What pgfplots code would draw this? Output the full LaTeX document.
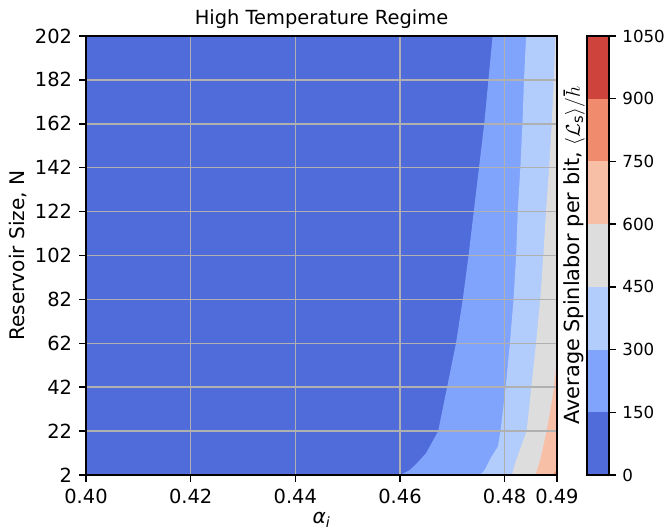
\documentclass[border=0pt]{standalone}
\usepackage{pgfplots}
\pgfplotsset{compat=1.18}
\usepackage{fontspec}
\setmainfont{DejaVu Sans}
\setsansfont{DejaVu Sans}
\definecolor{c1}{RGB}{80,107,218}
\definecolor{c2}{RGB}{128,164,251}
\definecolor{c3}{RGB}{178,204,251}
\definecolor{c4}{RGB}{221,221,221}
\definecolor{c5}{RGB}{246,191,166}
\definecolor{c6}{RGB}{240,139,109}
\definecolor{c7}{RGB}{206,67,59}
\newcommand{\fs}{\fontsize{14bp}{16bp}\selectfont}
\newcommand{\fl}{\fontsize{14.5bp}{17bp}\selectfont}
\newcommand{\fc}{\fontsize{12bp}{14bp}\selectfont}
\pgfplotsset{
  mpl/.style={
    scale only axis,
    axis on top,
    tick align=outside,
    major tick length=4.9bp,
    tick style={black, line width=1.12bp},
    axis line style={line width=1.12bp},
    ticklabel style={font=\fs, inner sep=0pt},
    label style={font=\fl},
    /pgf/number format/assume math mode=true,
    /pgf/number format/1000 sep={},
  },
  every axis title/.style={at={(0.5,1)}, anchor=base, yshift=8.4bp, font=\fs, inner sep=0pt},
}
\begin{document}
\begin{tikzpicture}
\useasboundingbox (0,0) rectangle (478.8bp,380.88bp);
\begin{axis}[mpl,
  at={(61.92bp,38.88bp)}, anchor=south west,
  width=339.1bp, height=316.1bp,
  xmin=0.40, xmax=0.49, ymin=2, ymax=202,
  xtick={0.40,0.42,0.44,0.46,0.48,0.49},
  xticklabels={0.40,0.42,0.44,0.46,0.48,0.49},
  ytick={2,22,42,62,82,102,122,142,162,182,202},
  xtick pos=left, ytick pos=left,
  xticklabel style={yshift=-4.9bp},
  yticklabel style={xshift=-4.9bp},
  grid=major,
  grid style={color=black!31, line width=1.12bp},
  title={High Temperature Regime},
  xlabel={\itshape α\textsubscript{i}},
  xlabel style={at={(axis description cs:0.5,0)}, anchor=north, inner sep=0pt, yshift=-26.6bp},
  ylabel={Reservoir Size, N},
  ylabel style={at={(axis description cs:-0.124,0.5)}, anchor=south, inner sep=0pt},
]
\addplot[fill=c1, draw=none] coordinates {(0.40,2) (0.49,2) (0.49,202) (0.40,202)} -- cycle;
\addplot[fill=c2, draw=none] coordinates {
 (0.4777,202) (0.4769,182) (0.4761,162) (0.4751,142) (0.4741,122) (0.4731,102)
 (0.4720,82) (0.4707,62) (0.4690,42) (0.4673,22) (0.4650,12) (0.4632,7.3)
 (0.4619,4.3) (0.4605,2.5) (0.4595,2) (0.49,2) (0.49,202)} -- cycle;
\addplot[fill=c3, draw=none] coordinates {
 (0.4841,202) (0.4837,182) (0.4834,162) (0.4830,142) (0.4825,122) (0.4822,102)
 (0.4817,82) (0.4810,62) (0.4802,42) (0.4792,22) (0.4787,14.9) (0.4773,9.6)
 (0.4762,4.3) (0.4756,2.8) (0.4750,2) (0.49,2) (0.49,202)} -- cycle;
\addplot[fill=c4, draw=none] coordinates {
 (0.4897,202) (0.4894,182) (0.4890,162) (0.4885,142) (0.4879,122) (0.4874,102)
 (0.4868,82) (0.4860,62) (0.4851,42) (0.4842,22) (0.4820,7.3) (0.4816,4)
 (0.4814,2) (0.49,2) (0.49,202)} -- cycle;
\addplot[fill=c5, draw=none] coordinates {
 (0.4900,54.4) (0.4892,38) (0.4884,27) (0.4880,21.7) (0.4868,8.8) (0.4861,3.5)
 (0.4858,2) (0.49,2)} -- cycle;
\addplot[fill=c6, draw=none] coordinates {(0.4892,2) (0.49,2) (0.49,4.5)} -- cycle;
\end{axis}
\begin{axis}[mpl,
  at={(422.6bp,38.88bp)}, anchor=south west,
  width=15.84bp, height=316.1bp,
  xmin=0, xmax=1, ymin=0, ymax=1050,
  xtick=\empty,
  ytick={0,150,300,450,600,750,900,1050},
  ytick pos=right, yticklabel pos=right,
  yticklabel style={xshift=4.6bp, font=\fc},
  ylabel={Average Spinlabor per bit, $\langle\mathcal{L}_{\mathrm{s}}\rangle/\hbar$},
  ylabel style={font=\fontsize{15bp}{17bp}\selectfont, at={(axis description cs:-0.08,0.5)}, anchor=south, inner sep=0pt},
]
\addplot[fill=c1, draw=none] coordinates {(0,0) (1,0) (1,150) (0,150)} -- cycle;
\addplot[fill=c2, draw=none] coordinates {(0,150) (1,150) (1,300) (0,300)} -- cycle;
\addplot[fill=c3, draw=none] coordinates {(0,300) (1,300) (1,450) (0,450)} -- cycle;
\addplot[fill=c4, draw=none] coordinates {(0,450) (1,450) (1,600) (0,600)} -- cycle;
\addplot[fill=c5, draw=none] coordinates {(0,600) (1,600) (1,750) (0,750)} -- cycle;
\addplot[fill=c6, draw=none] coordinates {(0,750) (1,750) (1,900) (0,900)} -- cycle;
\addplot[fill=c7, draw=none] coordinates {(0,900) (1,900) (1,1050) (0,1050)} -- cycle;
\end{axis}
\end{tikzpicture}
\end{document}
